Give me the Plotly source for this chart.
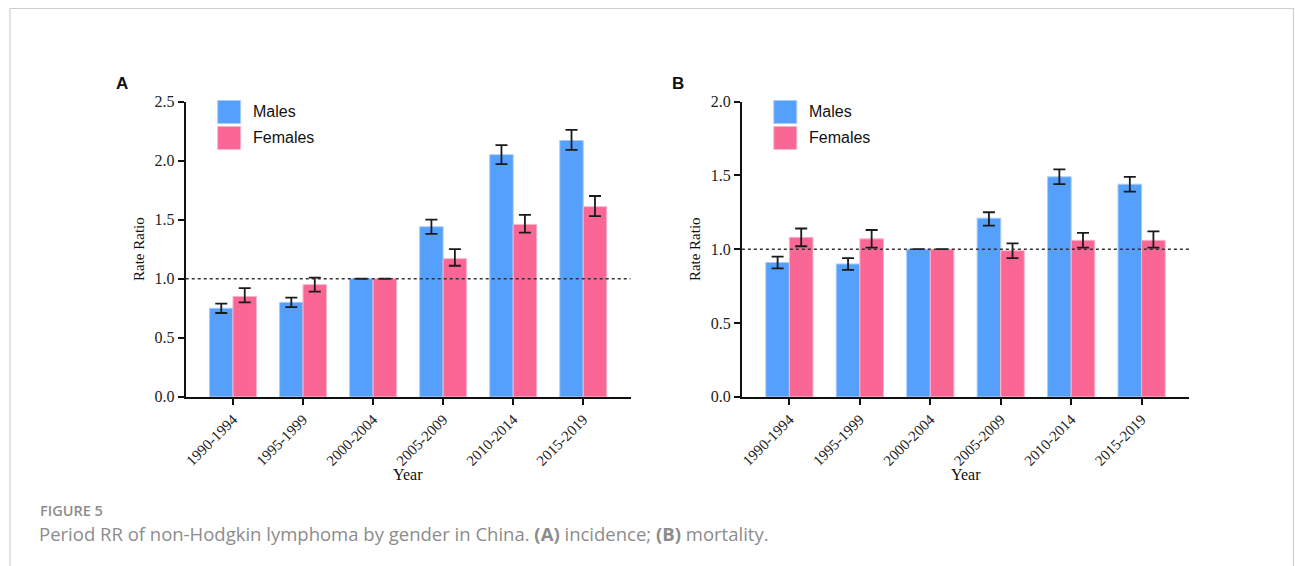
import plotly.graph_objects as go

W, H = 1295, 566

periods = ["1990-1994", "1995-1999", "2000-2004", "2005-2009", "2010-2014", "2015-2019"]

# Panel A: incidence rate ratios
inc_males = [0.75, 0.80, 1.00, 1.44, 2.05, 2.17]
inc_males_lo = [0.71, 0.76, None, 1.38, 1.97, 2.09]
inc_males_hi = [0.79, 0.84, None, 1.50, 2.13, 2.26]
inc_females = [0.85, 0.95, 1.00, 1.17, 1.46, 1.61]
inc_females_lo = [0.80, 0.89, None, 1.11, 1.39, 1.53]
inc_females_hi = [0.92, 1.01, None, 1.25, 1.54, 1.70]

# Panel B: mortality rate ratios
mor_males = [0.91, 0.90, 1.00, 1.21, 1.49, 1.44]
mor_males_lo = [0.87, 0.86, None, 1.16, 1.44, 1.39]
mor_males_hi = [0.95, 0.94, None, 1.25, 1.54, 1.49]
mor_females = [1.08, 1.07, 1.00, 0.99, 1.06, 1.06]
mor_females_lo = [1.02, 1.01, None, 0.94, 1.01, 1.01]
mor_females_hi = [1.14, 1.13, None, 1.04, 1.11, 1.12]

y_ticks_a = [0.0, 0.5, 1.0, 1.5, 2.0, 2.5]
y_ticks_b = [0.0, 0.5, 1.0, 1.5, 2.0]

BLUE = "#55A0FB"
PINK = "#FA6795"
BLUE_EDGE = "#A8CCFA"
PINK_EDGE = "#FBB3C9"
SERIF = "Liberation Serif, Times New Roman, serif"
SANS = "Liberation Sans, Arial, sans-serif"

# vertical compensation for how the page ends up being captured
VS, VOFF = 0.972, 8.0


def err(v, lo, hi):
    plus = [None if h is None else round(h - x, 4) for x, h in zip(v, hi)]
    minus = [None if l is None else round(x - l, 4) for x, l in zip(v, lo)]
    return plus, minus


def bar(vals, lo, hi, color, edge, xa, ya, name):
    plus, minus = err(vals, lo, hi)
    return go.Bar(
        x=periods, y=vals, name=name, xaxis=xa, yaxis=ya, showlegend=False,
        marker=dict(color=color, line=dict(color=edge, width=1)),
        error_y=dict(type="data", array=plus, arrayminus=minus, symmetric=False,
                     color="#1a1a1a", thickness=1.8, width=6),
    )


fig = go.Figure()
fig.add_trace(bar(inc_males, inc_males_lo, inc_males_hi, BLUE, BLUE_EDGE, "x", "y", "Males"))
fig.add_trace(bar(inc_females, inc_females_lo, inc_females_hi, PINK, PINK_EDGE, "x", "y", "Females"))
fig.add_trace(bar(mor_males, mor_males_lo, mor_males_hi, BLUE, BLUE_EDGE, "x2", "y2", "Males"))
fig.add_trace(bar(mor_females, mor_females_lo, mor_females_hi, PINK, PINK_EDGE, "x2", "y2", "Females"))


def px_x(p):
    return p / W


def px_y(p):
    return 1 - ((p - VOFF) / VS) / H


ydom = [px_y(397.7), px_y(101.7)]
xdomA = [px_x(184), px_x(629.5)]
xdomB = [px_x(741), px_x(1189)]

xaxis_common = dict(
    range=[-0.675, 5.675], showline=True, linecolor="#111", linewidth=2,
    ticks="outside", ticklen=6, tickwidth=1.6, tickcolor="#111",
    tickangle=-45, tickfont=dict(family=SERIF, size=15, color="#222"),
    showgrid=False, zeroline=False, fixedrange=True,
)
yaxis_common = dict(
    showline=True, linecolor="#111", linewidth=2,
    ticks="outside", ticklen=6, tickwidth=1.6, tickcolor="#111",
    tickfont=dict(family=SERIF, size=16, color="#222"), tickformat=".1f",
    showgrid=False, zeroline=False, fixedrange=True,
)

fig.update_layout(
    width=W, height=H, margin=dict(l=0, r=0, t=0, b=0),
    paper_bgcolor="white", plot_bgcolor="white",
    barmode="group", bargap=0.33, bargroupgap=0,
    xaxis=dict(domain=xdomA, anchor="y", **xaxis_common),
    yaxis=dict(domain=ydom, anchor="x", range=[0, 2.5], tickvals=y_ticks_a, **yaxis_common),
    xaxis2=dict(domain=xdomB, anchor="y2", **xaxis_common),
    yaxis2=dict(domain=ydom, anchor="x2", range=[0, 2.0], tickvals=y_ticks_b, **yaxis_common),
    showlegend=False,
)

shapes = []
annotations = []

# reference lines at RR = 1
for xr, yr in (("x", "y"), ("x2", "y2")):
    shapes.append(dict(type="line", xref=f"{xr} domain", yref=yr, x0=0, x1=1, y0=1, y1=1,
                       line=dict(color="#333", width=1.5, dash="dot"), layer="above"))

# custom legends, panel labels, axis titles
for dom, label in ((xdomA, "A"), (xdomB, "B")):
    x0 = dom[0] * W
    for i, (nm, col, edge) in enumerate((("Males", BLUE, BLUE_EDGE), ("Females", PINK, PINK_EDGE))):
        top = 100.7 + i * 26
        shapes.append(dict(type="rect", xref="paper", yref="paper",
                           x0=px_x(x0 + 32), x1=px_x(x0 + 55), y0=px_y(top), y1=px_y(top + 23),
                           fillcolor=col, line=dict(color=edge, width=1)))
        annotations.append(dict(xref="paper", yref="paper", x=px_x(x0 + 65), y=px_y(top + 11.5),
                                text=nm, showarrow=False, xanchor="left", yanchor="middle",
                                font=dict(family=SANS, size=16, color="#111")))
    annotations.append(dict(xref="paper", yref="paper", x=px_x(x0 - 64), y=px_y(84),
                            text=f"<b>{label}</b>", showarrow=False, xanchor="center", yanchor="middle",
                            font=dict(family=SANS, size=17, color="#111")))
    annotations.append(dict(xref="paper", yref="paper", x=px_x(x0 - 47), y=(ydom[0] + ydom[1]) / 2,
                            text="Rate Ratio", showarrow=False, textangle=-90,
                            xanchor="center", yanchor="middle",
                            font=dict(family=SERIF, size=15, color="#111")))
    annotations.append(dict(xref="paper", yref="paper", x=(dom[0] + dom[1]) / 2,
                            y=px_y(475), text="Year", showarrow=False,
                            xanchor="center", yanchor="middle",
                            font=dict(family=SERIF, size=16, color="#111")))

# figure frame (its bottom edge runs off the page, as in the original)
shapes.append(dict(type="rect", xref="paper", yref="paper", x0=px_x(8), x1=px_x(1293.5),
                   y0=-0.2, y1=px_y(8.5), line=dict(color="#cfcfcf", width=1.2), fillcolor="rgba(0,0,0,0)",
                   layer="below"))

# caption
annotations.append(dict(xref="paper", yref="paper", x=px_x(37.5), y=px_y(511.5),
                        text="FIGURE 5", showarrow=False, xanchor="left", yanchor="middle", borderpad=0,
                        font=dict(family="Open Sans, sans-serif", size=14.5, color="#8c8c8c", weight=600)))
annotations.append(dict(xref="paper", yref="paper", x=px_x(36.5), y=px_y(534.5),
                        text="Period RR of non-Hodgkin lymphoma by gender in China. <b>(A)</b> incidence; <b>(B)</b> mortality.",
                        showarrow=False, xanchor="left", yanchor="middle", borderpad=0,
                        font=dict(family="Open Sans, sans-serif", size=18.5, color="#8c8c8c")))

fig.update_layout(shapes=shapes, annotations=annotations)

# Remove the browser's default page margin as soon as the script runs.
page_css = (
    "}); "
    "document.documentElement.style.margin='0';"
    "document.documentElement.style.overflow='hidden';"
    "document.body.style.margin='0';"
    "document.body.style.padding='0';"
    "document.body.style.overflow='hidden';"
    " (function(){"
)

fig.write_html("out.html", config={"displayModeBar": False}, post_script=page_css)
